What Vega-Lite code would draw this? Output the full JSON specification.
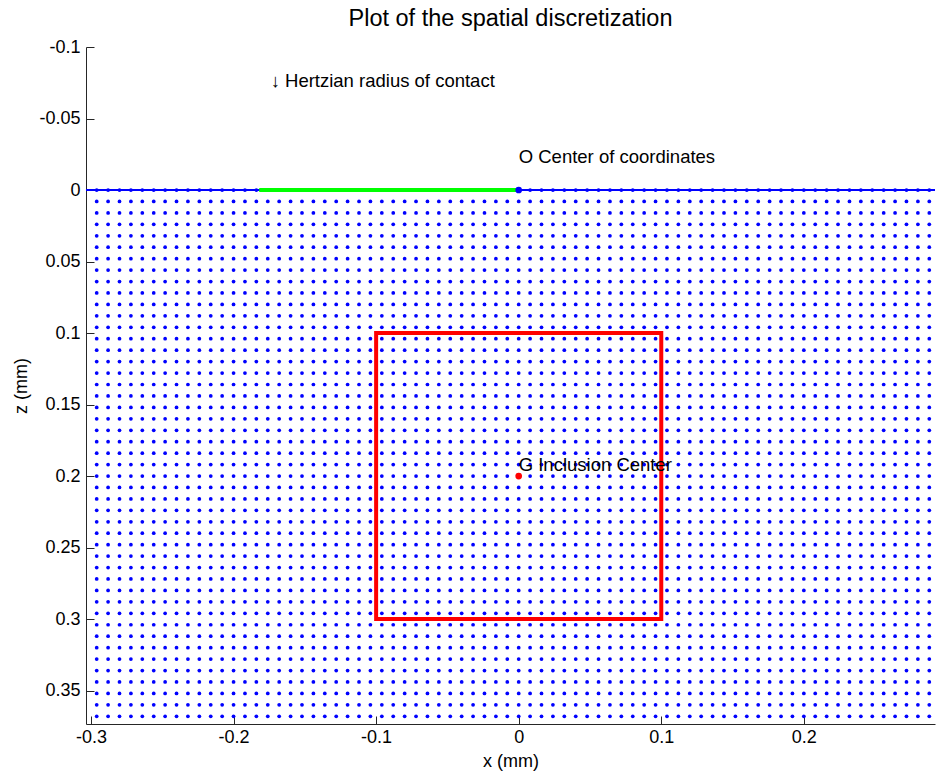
{
  "$schema": "https://vega.github.io/schema/vega-lite/v6.json",
  "width": 849,
  "height": 677,
  "autosize": {"type": "none"},
  "padding": {"left": 86, "top": 47, "right": 1, "bottom": 47},
  "background": "white",
  "title": {
    "text": "Plot of the spatial discretization",
    "font": "Liberation Sans",
    "fontSize": 23.5,
    "fontWeight": "normal",
    "color": "#000000",
    "anchor": "middle",
    "baseline": "bottom",
    "offset": 6,
    "dy": 22
  },
  "config": {
    "view": {"stroke": null},
    "axis": {
      "grid": false,
      "domainColor": "#262626",
      "domainWidth": 1,
      "tickColor": "#262626",
      "tickSize": -8,
      "labelFont": "Liberation Sans",
      "labelFontSize": 18,
      "labelColor": "#000000",
      "titleFont": "Liberation Sans",
      "titleFontSize": 18,
      "titleFontWeight": "normal",
      "titleColor": "#000000"
    }
  },
  "datasets": {
    "grid": [
      {
        "x": [-0.296,-0.288,-0.28,-0.272,-0.264,-0.256,-0.248,-0.24,-0.232,-0.224,-0.216,-0.208,-0.2,-0.192,-0.184,-0.176,-0.168,-0.16,-0.152,-0.144,-0.136,-0.128,-0.12,-0.112,-0.104,-0.096,-0.088,-0.08,-0.072,-0.064,-0.056,-0.048,-0.04,-0.032,-0.024,-0.016,-0.008,0,0.008,0.016,0.024,0.032,0.04,0.048,0.056,0.064,0.072,0.08,0.088,0.096,0.104,0.112,0.12,0.128,0.136,0.144,0.152,0.16,0.168,0.176,0.184,0.192,0.2,0.208,0.216,0.224,0.232,0.24,0.248,0.256,0.264,0.272,0.28,0.288],
        "z": [0,0.008,0.016,0.024,0.032,0.04,0.048,0.056,0.064,0.072,0.08,0.088,0.096,0.104,0.112,0.12,0.128,0.136,0.144,0.152,0.16,0.168,0.176,0.184,0.192,0.2,0.208,0.216,0.224,0.232,0.24,0.248,0.256,0.264,0.272,0.28,0.288,0.296,0.304,0.312,0.32,0.328,0.336,0.344,0.352,0.36,0.368]
      }
    ],
    "surface": [{"x": -0.3035, "x2": 0.292, "z": 0}],
    "hertz": [{"x": -0.182, "x2": 0, "z": 0}],
    "inclusion": [{"x": -0.1, "x2": 0.1, "z": 0.1, "z2": 0.3}],
    "centers": [
      {"x": 0, "z": 0, "kind": "origin"},
      {"x": 0, "z": 0.2, "kind": "inclusion"}
    ],
    "labels": [
      {"x": -0.174, "z": -0.076, "label": "↓ Hertzian radius of contact"},
      {"x": 0, "z": -0.023, "label": "O Center of coordinates"},
      {"x": 0, "z": 0.192, "label": "G Inclusion Center"}
    ]
  },
  "encoding": {
    "x": {
      "field": "x",
      "type": "quantitative",
      "title": "x (mm)",
      "scale": {"domain": [-0.3035, 0.292], "nice": false, "zero": false},
      "axis": {
        "values": [-0.3, -0.2, -0.1, 0, 0.1, 0.2],
        "labelExpr": "replace(format(datum.value, '~g'), '\u2212', '-')",
        "labelPadding": 12,
        "titlePadding": 6
      }
    },
    "y": {
      "field": "z",
      "type": "quantitative",
      "title": "z (mm)",
      "scale": {"domain": [-0.1, 0.3734], "nice": false, "zero": false, "reverse": true},
      "axis": {
        "values": [-0.1, -0.05, 0, 0.05, 0.1, 0.15, 0.2, 0.25, 0.3, 0.35],
        "labelExpr": "replace(format(datum.value, '~g'), '\u2212', '-')",
        "labelPadding": 14,
        "titlePadding": 8
      }
    }
  },
  "layer": [
    {
      "data": {"name": "grid"},
      "transform": [{"flatten": ["x"]}, {"flatten": ["z"]}],
      "mark": {"type": "point", "shape": "circle", "filled": true, "size": 14, "color": "#0000ff", "opacity": 1}
    },
    {
      "data": {"name": "surface"},
      "mark": {"type": "rule", "color": "#0000ff", "strokeWidth": 2},
      "encoding": {"x2": {"field": "x2"}}
    },
    {
      "data": {"name": "hertz"},
      "mark": {"type": "rule", "color": "#00ff00", "strokeWidth": 4},
      "encoding": {"x2": {"field": "x2"}}
    },
    {
      "data": {"name": "inclusion"},
      "mark": {"type": "rect", "fill": null, "fillOpacity": 0, "stroke": "#ff0000", "strokeWidth": 4},
      "encoding": {"x2": {"field": "x2"}, "y2": {"field": "z2"}}
    },
    {
      "data": {"name": "centers"},
      "mark": {"type": "point", "shape": "circle", "filled": true, "size": 45, "opacity": 1},
      "encoding": {
        "color": {
          "field": "kind",
          "type": "nominal",
          "scale": {"domain": ["origin", "inclusion"], "range": ["#0000ff", "#ff0000"]},
          "legend": null
        }
      }
    },
    {
      "data": {"name": "labels"},
      "mark": {"type": "text", "align": "left", "baseline": "middle", "font": "Liberation Sans", "fontSize": 18.5, "color": "#000000"},
      "encoding": {"text": {"field": "label"}}
    }
  ]
}
